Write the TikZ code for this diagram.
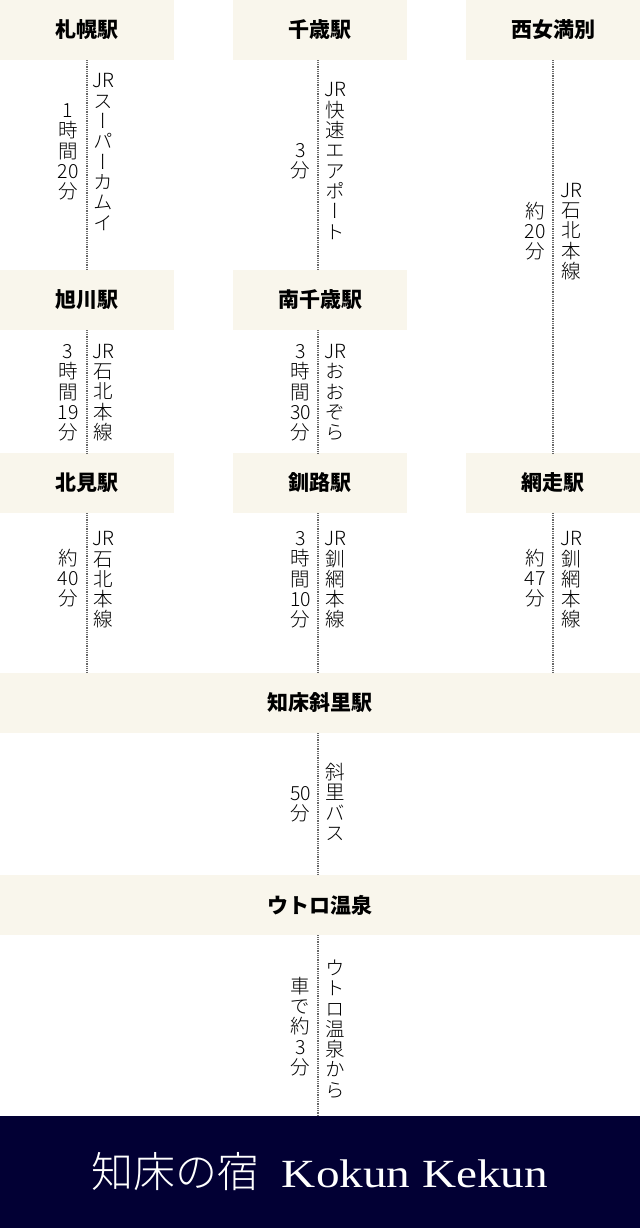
\documentclass[tikz,border=0pt]{standalone}
\usepackage{fontspec}
\usepackage{graphicx}
\usepackage{xcolor}
\newfontfamily\jp{Noto Sans CJK JP}
\IfFontExistsTF{Noto Sans CJK JP Light}
    {\newfontfamily\jptate[RawFeature=+vert]{Noto Sans CJK JP Light}
     \newfontfamily\jplight{Noto Sans CJK JP Light}}
    {\newfontfamily\jptate[RawFeature=+vert]{Noto Sans CJK JP}
     \newfontfamily\jplight{Noto Sans CJK JP}}
\newfontfamily\brand{Liberation Serif}

\definecolor{cream}{RGB}{249,246,236}
\definecolor{navy}{RGB}{2,0,52}
\definecolor{leggray}{RGB}{105,105,105}

\tikzset{
    station/.style={fill=cream, minimum width=174pt, minimum height=60pt, inner sep=0pt,
        font=\jp\bfseries\fontsize{21}{21}\selectfont},
    widestation/.style={station, minimum width=640pt},
    leg/.style={draw=leggray, line width=2pt, dash pattern=on 1pt off 0.8pt},
    tate/.style={align=center, inner sep=0pt, font=\jptate\fontsize{19.5}{20.3}\selectfont},
    footer/.style={fill=navy, text=white, minimum width=640pt, minimum height=112pt, inner sep=0pt}
}

\begin{document}
\begin{tikzpicture}[x=1pt, y=-1pt]
        \useasboundingbox (0, 0) rectangle (640, 1228);

        \node[station] (sapporo) at (86.5, 30) {札幌駅};
        \node[station] (chitose) at (320, 30) {千歳駅};
        \node[station] (nishi) at (553, 30) {西女満別};
        \node[station] (asahikawa) at (86.5, 300) {旭川駅};
        \node[station] (minami) at (320, 300) {南千歳駅};
        \node[station] (kitami) at (86.5, 483) {北見駅};
        \node[station] (kushiro) at (320, 483) {釧路駅};
        \node[station] (abashiri) at (553, 483) {網走駅};
        \node[widestation] (shari) at (320, 703) {知床斜里駅};
        \node[widestation] (utoro) at (320, 905) {ウトロ温泉};
        \node[footer] (yado) at (320, 1172) {{\jplight\fontsize{42}{42}\selectfont 知床の宿}\hspace{22pt}{\brand\fontsize{40}{40}\selectfont\scalebox{1.18}[1]{Kokun Kekun}}};

        \draw[leg] (sapporo.south) to (asahikawa.north)
            ([xshift=-2pt]chitose.south) to ([xshift=-2pt]minami.north)
            (nishi.south) to (abashiri.north)
            (asahikawa.south) to (kitami.north)
            ([xshift=-2pt]minami.south) to ([xshift=-2pt]kushiro.north)
            (kitami.south) to (kitami.south |- shari.north)
            ([xshift=-2pt]kushiro.south) to ([xshift=-2pt]shari.north)
            (abashiri.south) to (abashiri.south |- shari.north)
            ([xshift=-2pt]shari.south) to ([xshift=-2pt]utoro.north)
            ([xshift=-2pt]utoro.south) to ([xshift=-2pt]utoro.south |- yado.north);

        \node[tate] (sapporo-line) at (103.5, 152) {JR\\ス\\ー\\パ\\ー\\カ\\ム\\イ};
        \node[tate] (sapporo-time) at (68, 152) {1\\時\\間\\20\\分};
        \node[tate] (chitose-line) at (335, 161) {JR\\快\\速\\エ\\ア\\ポ\\ー\\ト};
        \node[tate] (chitose-time) at (300.5, 161.5) {3\\分};
        \node[tate] (nishi-line) at (571, 231.5) {JR\\石\\北\\本\\線};
        \node[tate] (nishi-time) at (535, 231) {約\\20\\分};
        \node[tate] (asahikawa-line) at (103.5, 392.5) {JR\\石\\北\\本\\線};
        \node[tate] (asahikawa-time) at (68, 393) {3\\時\\間\\19\\分};
        \node[tate] (minami-line) at (335, 392.5) {JR\\お\\お\\ぞ\\ら};
        \node[tate] (minami-time) at (300.5, 393) {3\\時\\間\\30\\分};
        \node[tate] (kitami-line) at (103.5, 580) {JR\\石\\北\\本\\線};
        \node[tate] (kitami-time) at (68, 578) {約\\40\\分};
        \node[tate] (kushiro-line) at (335, 580) {JR\\釧\\網\\本\\線};
        \node[tate] (kushiro-time) at (300.5, 580) {3\\時\\間\\10\\分};
        \node[tate] (abashiri-line) at (571, 580) {JR\\釧\\網\\本\\線};
        \node[tate] (abashiri-time) at (535, 578) {約\\47\\分};
        \node[tate] (shari-line) at (335, 802) {斜\\里\\バ\\ス};
        \node[tate] (shari-time) at (300.5, 804) {50\\分};
        \node[tate] (utoro-line) at (335, 1029) {ウ\\ト\\ロ\\温\\泉\\か\\ら};
        \node[tate] (utoro-time) at (300.5, 1026.5) {車\\で\\約\\3\\分};
    \end{tikzpicture}
\end{document}
